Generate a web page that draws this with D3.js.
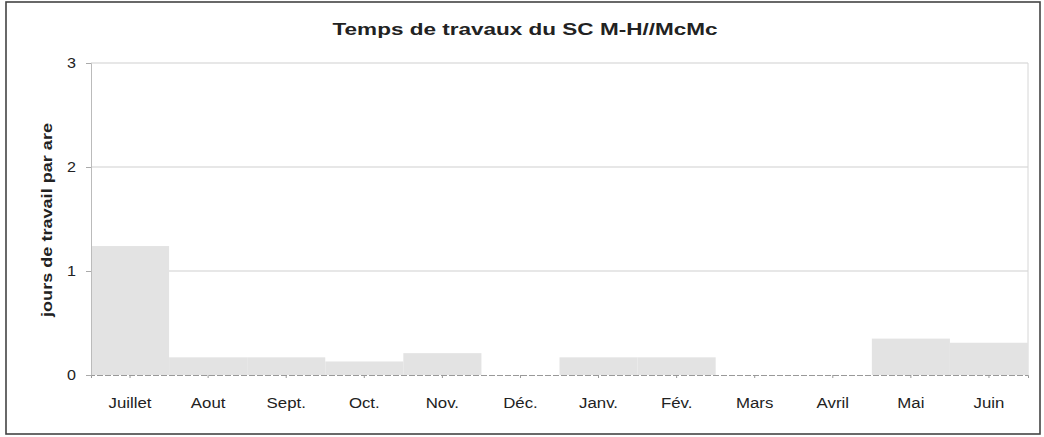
<!DOCTYPE html>
<html>
<head>
<meta charset="utf-8">
<script src="https://cdn.jsdelivr.net/npm/d3@7"></script>
<style>
  body { margin: 0; background: #fff; }
  text { font-family: "Liberation Sans", Arial, sans-serif; fill: #222; }
</style>
</head>
<body>
<svg id="canvas" width="1044" height="437"></svg>
<script>
const months = ['Juillet', 'Aout', 'Sept.', 'Oct.', 'Nov.', 'Déc.', 'Janv.', 'Fév.', 'Mars', 'Avril', 'Mai', 'Juin'];
const jours = [1.24, 0.17, 0.17, 0.13, 0.21, 0, 0.17, 0.17, 0, 0, 0.35, 0.31];
const yTicks = [0, 1, 2, 3];

const svg = d3.select('#canvas');
const plotLeft = 91, plotRight = 1028, plotTop = 63, plotBottom = 375;

// le scan est un peu étiré en largeur
function stretch(sel, k) {
  sel.each(function () {
    let w = this.getComputedTextLength();
    d3.select(this).attr('textLength', w * k).attr('lengthAdjust', 'spacingAndGlyphs');
  });
}

// cadre extérieur
svg.append('rect')
  .attr('x', 6).attr('y', 2).attr('width', 1034).attr('height', 432)
  .attr('fill', 'none').attr('stroke', '#444').attr('stroke-width', 1.6);

let x = d3.scaleBand().domain(months).range([plotLeft, plotRight]).padding(0);
let y = d3.scaleLinear().domain([0, 3]).range([plotBottom, plotTop]);

// grille
svg.append('g')
  .selectAll('line')
  .data(yTicks.filter((d) => d > 0))
  .enter()
  .append('line')
  .attr('x1', plotLeft).attr('x2', plotRight)
  .attr('y1', (d) => y(d)).attr('y2', (d) => y(d))
  .attr('stroke', '#cfcfcf').attr('stroke-width', 1);

// bord droit de la zone
svg.append('line')
  .attr('x1', plotRight).attr('x2', plotRight).attr('y1', plotTop).attr('y2', plotBottom)
  .attr('stroke', '#d6d6d6');

// barres
svg.append('g')
  .selectAll('rect')
  .data(jours)
  .enter()
  .append('rect')
  .attr('x', (d, i) => x(months[i]))
  .attr('y', (d) => y(d))
  .attr('width', x.bandwidth())
  .attr('height', (d) => plotBottom - y(d))
  .attr('fill', '#e3e3e3');

// axe y
let yAxis = d3.axisLeft(y).tickValues(yTicks).tickSize(5).tickPadding(10).tickFormat(d3.format('d'));
let gy = svg.append('g').attr('transform', 'translate(' + plotLeft + ',0)').call(yAxis);
gy.select('.domain').attr('stroke', '#bbb');
gy.selectAll('.tick line').attr('stroke', '#aaa');
gy.selectAll('.tick text').style('font-size', '14px').attr('fill', '#222').call(stretch, 1.15);

// axe x
let xAxis = d3.axisBottom(x).tickSize(3).tickPadding(20);
let gx = svg.append('g').attr('transform', 'translate(0,' + plotBottom + ')').call(xAxis);
gx.select('.domain').attr('stroke', '#999').attr('stroke-dasharray', '6,2');
gx.selectAll('.tick line').attr('stroke', '#999');
gx.selectAll('.tick text').style('font-size', '14px').attr('fill', '#222').call(stretch, 1.2);

// titre
svg.append('text')
  .attr('x', 525).attr('y', 35)
  .attr('text-anchor', 'middle')
  .style('font-size', '17px').style('font-weight', 'bold')
  .attr('textLength', 385).attr('lengthAdjust', 'spacingAndGlyphs')
  .text('Temps de travaux du SC M-H//McMc');

// titre axe y
svg.append('text')
  .attr('transform', 'translate(52,220) rotate(-90)')
  .attr('text-anchor', 'middle')
  .style('font-size', '15px').style('font-weight', 'bold')
  .attr('textLength', 194).attr('lengthAdjust', 'spacingAndGlyphs')
  .text('jours de travail par are');
</script>
</body>
</html>
